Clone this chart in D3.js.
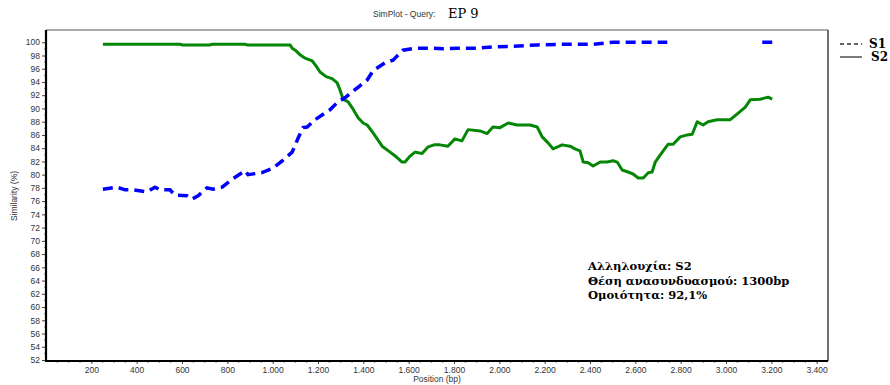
<!DOCTYPE html>
<html>
<head>
<meta charset="utf-8">
<script src="https://cdn.jsdelivr.net/npm/d3@7"></script>
<style>
  html, body { margin: 0; padding: 0; background: #fff; }
  svg { display: block; }
</style>
</head>
<body>
<svg id="chart" width="890" height="385"></svg>
<script>
// Similarity of query EP 9 against reference sequences S1 and S2 along the alignment
const seriesNames = ["S1", "S2"];

const s1Pos = [251, 313, 349, 384, 446, 481, 503, 547, 569, 622, 644, 671, 710, 737, 777, 825, 878, 891, 953, 1002,
  1046, 1086, 1112, 1134, 1152, 1187, 1218, 1253, 1288, 1319, 1350, 1377, 1417, 1443, 1496, 1531, 1575, 1628,
  1708, 1752, 1814, 1902, 1968, 2061, 2167, 2299, 2414, 2502, 2591, 2741, 2950, 3160, 3204];
const s1Val = [77.8, 78.1, 77.7, 77.7, 77.4, 78.1, 77.7, 77.7, 76.9, 76.8, 76.3, 76.8, 78.0, 77.8, 78.1, 79.4, 80.6, 80.0, 80.3, 81.0,
  82.2, 83.4, 85.5, 87.1, 87.2, 88.3, 89.0, 89.8, 91.0, 91.6, 92.5, 93.2, 94.3, 95.7, 96.9, 97.3, 98.8, 99.1,
  99.1, 99.0, 99.1, 99.1, 99.3, 99.4, 99.6, 99.7, 99.7, 100.0, 100.0, 100.0, null, 100.0, 100.0];

const s2Pos = [251, 591, 600, 724, 733, 878, 887, 1077, 1086, 1103, 1121, 1143, 1174, 1192, 1209, 1236, 1262, 1284,
  1297, 1311, 1333, 1351, 1377, 1399, 1417, 1443, 1483, 1518, 1545, 1571, 1584, 1606, 1628, 1659, 1686, 1712,
  1738, 1773, 1804, 1835, 1862, 1915, 1946, 1972, 2003, 2039, 2078, 2136, 2167, 2189, 2215, 2237, 2277, 2312,
  2334, 2356, 2370, 2392, 2414, 2445, 2476, 2502, 2520, 2542, 2568, 2590, 2613, 2635, 2657, 2674, 2688, 2710,
  2745, 2767, 2798, 2829, 2851, 2873, 2899, 2921, 2961, 3019, 3054, 3085, 3107, 3151, 3173, 3186, 3204];
const s2Val = [99.7, 99.7, 99.6, 99.6, 99.7, 99.7, 99.6, 99.6, 99.1, 98.7, 98.1, 97.6, 97.2, 96.4, 95.5, 94.8, 94.5, 93.9,
  92.8, 91.4, 91.0, 90.1, 88.6, 87.8, 87.5, 86.3, 84.3, 83.4, 82.7, 81.9, 81.9, 82.8, 83.4, 83.2, 84.2, 84.5,
  84.5, 84.3, 85.4, 85.1, 86.8, 86.6, 86.2, 87.2, 87.1, 87.8, 87.5, 87.5, 87.2, 85.7, 84.8, 83.9, 84.5, 84.3,
  83.9, 83.6, 81.9, 81.8, 81.3, 81.9, 81.9, 82.1, 81.9, 80.7, 80.4, 80.1, 79.5, 79.5, 80.3, 80.4, 81.9, 83.0,
  84.6, 84.6, 85.7, 86.0, 86.1, 88.0, 87.5, 88.0, 88.3, 88.3, 89.3, 90.2, 91.3, 91.4, 91.6, 91.7, 91.4];

const xTicks = [200, 400, 600, 800, 1000, 1200, 1400, 1600, 1800, 2000, 2200, 2400, 2600, 2800, 3000, 3200, 3400];
const yTicks = [52, 54, 56, 58, 60, 62, 64, 66, 68, 70, 72, 74, 76, 78, 80, 82, 84, 86, 88, 90, 92, 94, 96, 98, 100];

const noteLines = ["Αλληλουχία: S2", "Θέση ανασυνδυασμού: 1300bp", "Ομοιότητα: 92,1%"];

const svg = d3.select("#chart");
const plotL = 46, plotR = 828, plotT = 30, plotB = 361;

const x = d3.scaleLinear().domain([0, 3450]).range([plotL, plotR]);
const y = d3.scaleLinear().domain([51.85, 101.85]).range([plotB, plotT]);

const locale = d3.formatLocale({ decimal: ",", thousands: ".", grouping: [3], currency: ["", ""] });
const fmtX = locale.format(",d");

const sans = "'Liberation Sans', Arial, sans-serif";
const serif = "'DejaVu Serif', 'Liberation Serif', serif";

// Title
svg.append("text").attr("x", 373).attr("y", 17).attr("font-family", sans).attr("font-size", 8.5).attr("fill", "#333")
  .text("SimPlot - Query:");
svg.append("text").attr("x", 448).attr("y", 18).attr("font-family", serif).attr("font-size", 13).attr("fill", "#000")
  .text("EP 9");

// Frame: light top/right, heavy left/bottom
svg.append("line").attr("x1", plotL).attr("x2", plotR).attr("y1", plotT).attr("y2", plotT).attr("stroke", "#555").attr("stroke-width", 1);
svg.append("line").attr("x1", plotR).attr("x2", plotR).attr("y1", plotT).attr("y2", plotB).attr("stroke", "#111").attr("stroke-width", 1.2);

// X axis
const xAxis = d3.axisBottom(x).tickValues(xTicks).tickFormat(fmtX).tickSize(3).tickPadding(3);
const gx = svg.append("g").attr("transform", `translate(0,${plotB})`).call(xAxis);
gx.select(".domain").remove();
gx.selectAll("text").attr("font-family", sans).attr("font-size", 8.5).attr("fill", "#333");
gx.selectAll("line").attr("stroke", "#444");
const xMinor = d3.range(50, 3450, 50).filter(v => v % 200 !== 0);
svg.append("g").selectAll("line").data(xMinor).join("line")
  .attr("x1", d => x(d)).attr("x2", d => x(d)).attr("y1", plotB).attr("y2", plotB + 2)
  .attr("stroke", "#666").attr("stroke-width", 0.8);

// Y axis
const yAxis = d3.axisLeft(y).tickValues(yTicks).tickSize(4).tickPadding(2);
const gy = svg.append("g").attr("transform", `translate(${plotL},0)`).call(yAxis);
gy.select(".domain").remove();
gy.selectAll("text").attr("font-family", sans).attr("font-size", 8.5).attr("fill", "#333");
gy.selectAll("line").attr("stroke", "#444");
const yMinor = d3.range(53, 101, 2);
svg.append("g").selectAll("line").data(yMinor).join("line")
  .attr("x1", plotL - 2).attr("x2", plotL).attr("y1", d => y(d)).attr("y2", d => y(d))
  .attr("stroke", "#666").attr("stroke-width", 0.8);

svg.append("line").attr("x1", plotL).attr("x2", plotL).attr("y1", plotT).attr("y2", plotB + 1).attr("stroke", "#000").attr("stroke-width", 2.2);
svg.append("line").attr("x1", plotL - 1).attr("x2", plotR).attr("y1", plotB).attr("y2", plotB).attr("stroke", "#000").attr("stroke-width", 2.2);

// Axis titles
svg.append("text").attr("x", (plotL + plotR) / 2).attr("y", 382).attr("text-anchor", "middle")
  .attr("font-family", sans).attr("font-size", 8.5).attr("fill", "#333").text("Position (bp)");
svg.append("text").attr("transform", "translate(17,196) rotate(-90)").attr("text-anchor", "middle")
  .attr("font-family", sans).attr("font-size", 8.5).attr("fill", "#333").text("Similarity (%)");

// Series lines
const line = d3.line().defined(d => d[1] !== null).x(d => x(d[0])).y(d => y(d[1]));
const s1 = s1Pos.map((p, i) => [p, s1Val[i]]);
const s2 = s2Pos.map((p, i) => [p, s2Val[i]]);

svg.append("path").datum(s2).attr("d", line).attr("fill", "none")
  .attr("stroke", "#068606").attr("stroke-width", 3).attr("stroke-linejoin", "round");
svg.append("path").datum(s1).attr("d", line).attr("fill", "none")
  .attr("stroke", "#0000ff").attr("stroke-width", 3.5).attr("stroke-dasharray", "10,6");

// Legend
const legend = svg.append("g");
legend.append("line").attr("x1", 840).attr("x2", 862).attr("y1", 44).attr("y2", 44)
  .attr("stroke", "#333").attr("stroke-width", 1.3).attr("stroke-dasharray", "4,3");
legend.append("line").attr("x1", 840).attr("x2", 862).attr("y1", 57).attr("y2", 57)
  .attr("stroke", "#333").attr("stroke-width", 1.3);
legend.selectAll("text").data(seriesNames).join("text")
  .attr("x", (d, i) => 869 + i * 2).attr("y", (d, i) => 48 + i * 13)
  .attr("font-family", serif).attr("font-weight", "bold").attr("font-size", 12).text(d => d);

// Annotation
svg.append("g").selectAll("text").data(noteLines).join("text")
  .attr("x", 588).attr("y", (d, i) => 270 + i * 14.5)
  .attr("font-family", serif).attr("font-weight", "bold").attr("font-size", 11.5).text(d => d);
</script>
</body>
</html>
